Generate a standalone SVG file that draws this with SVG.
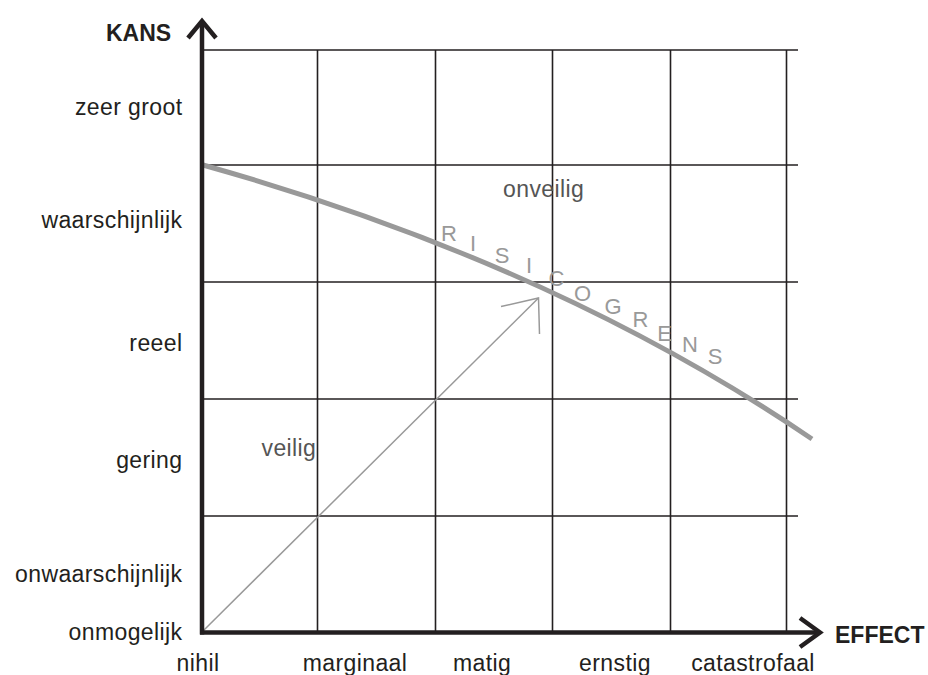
<svg xmlns="http://www.w3.org/2000/svg" width="928" height="675" viewBox="0 0 928 675">
<style>
.lbl{font-family:"Liberation Sans",Arial,sans-serif;font-size:23px;letter-spacing:0.4px;fill:#231f20}
.end{text-anchor:end}
.mid{text-anchor:middle}
.bold{font-family:"Liberation Sans",Arial,sans-serif;font-size:23px;font-weight:bold;fill:#231f20}
.zone{font-family:"Liberation Sans",Arial,sans-serif;font-size:23px;letter-spacing:0.4px;fill:#555}
.rg{font-family:"Liberation Sans",Arial,sans-serif;font-size:22px;fill:#999;text-anchor:middle}
.grid{stroke:#231f20;stroke-width:1.6;fill:none}
.axis{stroke:#231f20;stroke-width:4.5;fill:none}
</style>
<rect width="928" height="675" fill="#fff"/>
<g id="grid">
<line class="grid" x1="202" y1="50" x2="798" y2="50"/>
<line class="grid" x1="202" y1="165" x2="798" y2="165"/>
<line class="grid" x1="202" y1="282" x2="798" y2="282"/>
<line class="grid" x1="202" y1="399" x2="798" y2="399"/>
<line class="grid" x1="202" y1="516" x2="798" y2="516"/>
<line class="grid" x1="317.5" y1="50" x2="317.5" y2="632"/>
<line class="grid" x1="435.5" y1="50" x2="435.5" y2="632"/>
<line class="grid" x1="552.5" y1="50" x2="552.5" y2="632"/>
<line class="grid" x1="670.5" y1="50" x2="670.5" y2="632"/>
<line class="grid" x1="786.5" y1="50" x2="786.5" y2="632"/>
</g>
<g id="connectors">
<path id="risicogrens-curve" d="M203,165 Q553,263 812,439" fill="none" stroke="#999" stroke-width="5"/>
<line x1="203" y1="631" x2="538.5" y2="298" stroke="#999" stroke-width="1.5"/>
<polyline points="501,306.5 538.5,298 539.5,334" fill="none" stroke="#999" stroke-width="1.5"/>
</g>
<g id="axes">
<line class="axis" x1="202" y1="634.5" x2="202" y2="22"/>
<polyline class="axis" points="188,38 202,21 216,38"/>
<line class="axis" x1="200" y1="632.5" x2="820" y2="632.5"/>
<polyline class="axis" points="800,618 820,632.5 800,647"/>
<text class="bold" x="106" y="41">KANS</text>
<text class="bold" x="835" y="643">EFFECT</text>
</g>
<g id="y-labels">
<text class="lbl end" x="182.5" y="114.5">zeer groot</text>
<text class="lbl end" x="182.5" y="227.5">waarschijnlijk</text>
<text class="lbl end" x="182.5" y="351">reeel</text>
<text class="lbl end" x="182.5" y="468">gering</text>
<text class="lbl end" x="182.5" y="582">onwaarschijnlijk</text>
<text class="lbl end" x="182.5" y="640">onmogelijk</text>
</g>
<g id="x-labels">
<text class="lbl mid" x="198" y="671">nihil</text>
<text class="lbl mid" x="355" y="671">marginaal</text>
<text class="lbl mid" x="482" y="671">matig</text>
<text class="lbl mid" x="615" y="671">ernstig</text>
<text class="lbl mid" x="753" y="671">catastrofaal</text>
</g>
<g id="zones">
<text class="zone" x="503" y="196.5">onveilig</text>
<text class="zone" x="261.5" y="456">veilig</text>
</g>
<g id="risicogrens">
<text class="rg" x="449" y="241">R</text>
<text class="rg" x="473" y="251">I</text>
<text class="rg" x="502" y="263">S</text>
<text class="rg" x="529" y="273">I</text>
<text class="rg" x="556.5" y="286">C</text>
<text class="rg" x="582.5" y="301">O</text>
<text class="rg" x="613" y="314">G</text>
<text class="rg" x="640.5" y="327">R</text>
<text class="rg" x="664.5" y="341">E</text>
<text class="rg" x="690" y="352">N</text>
<text class="rg" x="715" y="364">S</text>
</g>
</svg>
